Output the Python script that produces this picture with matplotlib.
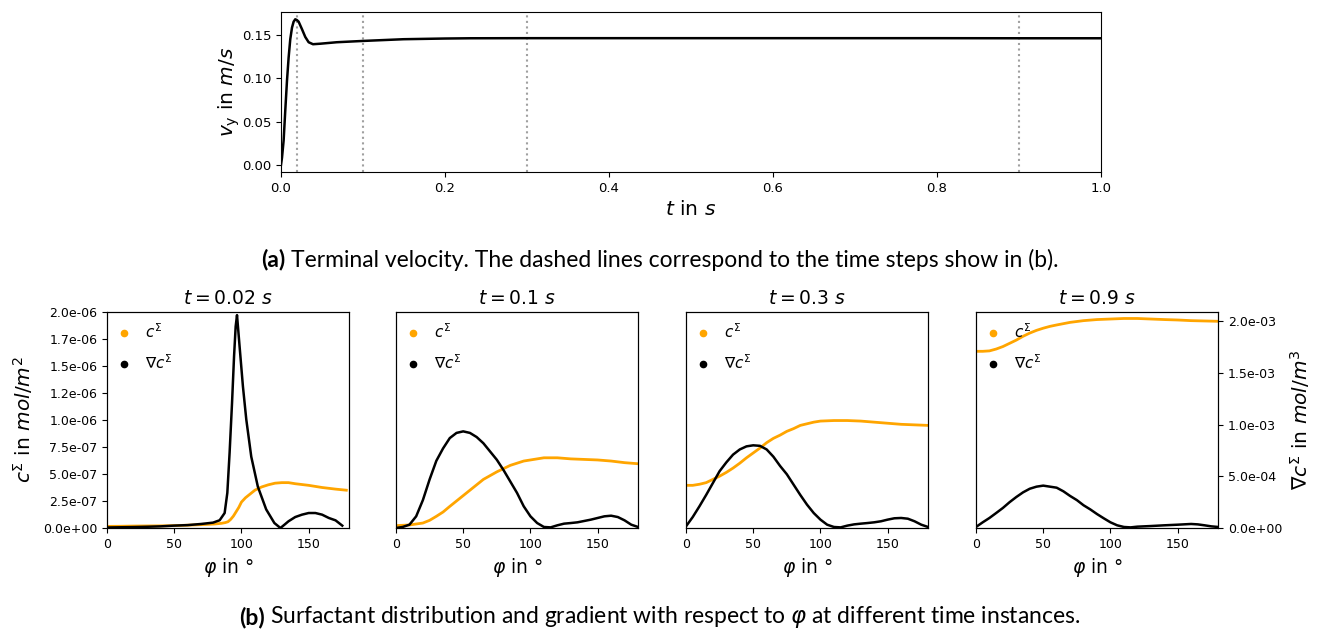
import matplotlib
matplotlib.use("Agg")
import matplotlib.pyplot as plt
from matplotlib.lines import Line2D

# ---------------- terminal velocity ----------------
t_vel = [0.0, 0.0012, 0.0032, 0.0052, 0.0073, 0.0093, 0.0113, 0.0134, 0.0154,
         0.0174, 0.0195, 0.0215, 0.0256, 0.0296, 0.0337, 0.039, 0.048, 0.068,
         0.1, 0.1495, 0.2, 0.231, 0.3, 0.4, 0.5, 0.6, 0.7, 0.8, 0.9, 1.0]
v_vel = [0.0, 0.008, 0.028, 0.0627, 0.0973, 0.1242, 0.1454, 0.1588, 0.1657,
         0.1685, 0.1675, 0.1657, 0.157, 0.148, 0.1419, 0.1396, 0.1402, 0.1419,
         0.1434, 0.1454, 0.1462, 0.1465, 0.1466, 0.1466, 0.1466, 0.1466, 0.1466,
         0.1466, 0.1465, 0.1465]
marked_times = [0.02, 0.1, 0.3, 0.9]

# ---------------- surfactant, t = 0.02 s ----------------
phi_c_a = [0, 10, 20, 30, 40, 50, 60, 70, 80, 85, 88, 90, 92, 94, 96, 98, 100,
           103, 106, 110, 115, 120, 125, 130, 135, 140, 150, 160, 170, 178]
c_a = [1.5e-8, 1.6e-8, 1.8e-8, 1.9e-8, 2.0e-8, 2.2e-8, 2.6e-8, 3.1e-8, 3.7e-8,
       4.3e-8, 5.0e-8, 5.8e-8, 8.0e-8, 1.1e-7, 1.5e-7, 1.9e-7, 2.4e-7, 2.8e-7,
       3.1e-7, 3.5e-7, 3.8e-7, 4.0e-7, 4.15e-7, 4.2e-7, 4.2e-7, 4.1e-7, 3.95e-7,
       3.75e-7, 3.6e-7, 3.5e-7]
phi_g_a = [0, 10, 20, 30, 40, 50, 60, 70, 78.9, 83.8, 87.5, 89.5, 91.2, 93.0,
           94.5, 95.7, 96.7, 98.6, 101.1, 103.6, 107.3, 112.2, 118.4, 124.5,
           129.0, 132, 135, 140, 145, 150, 155, 160, 165, 170, 175]
g_a = [5e-6, 7e-6, 9e-6, 1.2e-5, 1.6e-5, 2.3e-5, 2.8e-5, 3.9e-5, 5.2e-5, 7.5e-5,
       1.45e-4, 3.4e-4, 7.3e-4, 1.21e-3, 1.66e-3, 1.95e-3, 2.06e-3, 1.76e-3,
       1.37e-3, 1.05e-3, 6.9e-4, 4.0e-4, 1.8e-4, 4.8e-5, 0.0, 3.2e-5, 6.5e-5,
       1.06e-4, 1.29e-4, 1.45e-4, 1.45e-4, 1.29e-4, 9.7e-5, 7.4e-5, 2.3e-5]

# ---------------- surfactant, t = 0.1 s ----------------
phi_c_b = [0, 10, 20, 25, 30, 35, 40, 45, 50, 55, 60, 65, 70, 75, 80, 85, 90,
           95, 100, 105, 110, 120, 130, 140, 150, 160, 170, 180]
c_b = [2.2e-8, 2.8e-8, 4.6e-8, 7.1e-8, 1.08e-7, 1.48e-7, 2.0e-7, 2.5e-7, 3.0e-7,
       3.5e-7, 4.0e-7, 4.5e-7, 4.85e-7, 5.2e-7, 5.5e-7, 5.8e-7, 6.0e-7, 6.2e-7,
       6.3e-7, 6.4e-7, 6.5e-7, 6.5e-7, 6.4e-7, 6.35e-7, 6.3e-7, 6.2e-7, 6.05e-7,
       5.95e-7]
phi_g_b = [0, 5, 10, 15, 20, 25, 30, 35, 40, 45, 50, 55, 60, 65, 70, 75, 80, 85,
           90, 95, 100, 105, 110, 115, 120, 125, 130, 135, 140, 145, 150, 155,
           160, 165, 170, 175, 180]
g_b = [0.0, 1e-5, 3.2e-5, 1.13e-4, 2.7e-4, 4.7e-4, 6.5e-4, 7.7e-4, 8.7e-4,
       9.2e-4, 9.35e-4, 9.2e-4, 8.8e-4, 8.2e-4, 7.4e-4, 6.6e-4, 5.6e-4, 4.5e-4,
       3.4e-4, 2.1e-4, 1.13e-4, 4.8e-5, 1e-5, 6e-6, 2.6e-5, 4.2e-5, 4.8e-5,
       5.5e-5, 6.8e-5, 8.1e-5, 9.7e-5, 1.13e-4, 1.19e-4, 1.06e-4, 7.4e-5,
       3.2e-5, 1e-5]

# ---------------- surfactant, t = 0.3 s ----------------
phi_c_c = [0, 5, 10, 15, 20, 25, 30, 35, 40, 45, 50, 55, 60, 65, 70, 75, 80, 85,
           90, 95, 100, 110, 120, 130, 140, 150, 160, 170, 180]
c_c = [3.95e-7, 3.95e-7, 4.05e-7, 4.2e-7, 4.5e-7, 4.8e-7, 5.15e-7, 5.55e-7,
       6.0e-7, 6.5e-7, 6.95e-7, 7.4e-7, 7.9e-7, 8.3e-7, 8.6e-7, 8.95e-7, 9.2e-7,
       9.5e-7, 9.65e-7, 9.8e-7, 9.9e-7, 9.95e-7, 9.95e-7, 9.9e-7, 9.8e-7,
       9.7e-7, 9.6e-7, 9.55e-7, 9.5e-7]
phi_g_c = [0, 5, 10, 15, 20, 25, 30, 35, 40, 45, 50, 55, 60, 65, 70, 75, 80, 85,
           90, 95, 100, 105, 110, 115, 120, 125, 130, 135, 140, 145, 150, 155,
           160, 165, 170, 175, 180]
g_c = [1.6e-5, 1.06e-4, 2.1e-4, 3.2e-4, 4.35e-4, 5.5e-4, 6.35e-4, 7.1e-4, 7.6e-4,
       7.9e-4, 8.0e-4, 7.95e-4, 7.6e-4, 6.9e-4, 6.0e-4, 5.2e-4, 4.2e-4, 3.2e-4,
       2.26e-4, 1.45e-4, 8.1e-5, 3.2e-5, 1e-5, 6e-6, 2.3e-5, 3.5e-5, 4.2e-5,
       4.8e-5, 5.5e-5, 6.5e-5, 8.1e-5, 9.4e-5, 9.7e-5, 9.0e-5, 6.5e-5, 3.2e-5,
       1e-5]

# ---------------- surfactant, t = 0.9 s ----------------
phi_c_d = [0, 5, 10, 15, 20, 25, 30, 35, 40, 45, 50, 55, 60, 70, 80, 90, 100,
           110, 120, 130, 140, 150, 160, 170, 180]
c_d = [1.636e-6, 1.636e-6, 1.64e-6, 1.657e-6, 1.68e-6, 1.71e-6, 1.74e-6,
       1.775e-6, 1.805e-6, 1.83e-6, 1.85e-6, 1.867e-6, 1.88e-6, 1.904e-6,
       1.92e-6, 1.93e-6, 1.935e-6, 1.94e-6, 1.94e-6, 1.935e-6, 1.93e-6,
       1.926e-6, 1.92e-6, 1.917e-6, 1.914e-6]
phi_g_d = [0, 5, 10, 15, 20, 25, 30, 35, 40, 45, 50, 55, 60, 65, 70, 75, 80, 85,
           90, 95, 100, 105, 110, 115, 120, 130, 140, 150, 160, 165, 170, 175, 180]
g_d = [1e-5, 5.5e-5, 9.7e-5, 1.45e-4, 1.94e-4, 2.5e-4, 3.0e-4, 3.45e-4, 3.8e-4,
       4.0e-4, 4.1e-4, 4.0e-4, 3.9e-4, 3.55e-4, 3.1e-4, 2.7e-4, 2.2e-4, 1.8e-4,
       1.35e-4, 9.4e-5, 5.5e-5, 2.6e-5, 1e-5, 6e-6, 1.3e-5, 1.9e-5, 2.6e-5,
       3.2e-5, 3.9e-5, 3.5e-5, 2.6e-5, 1.6e-5, 1e-5]

panel_titles = [r"$t = 0.02$ $s$", r"$t = 0.1$ $s$", r"$t = 0.3$ $s$", r"$t = 0.9$ $s$"]
panel_data = [(phi_c_a, c_a, phi_g_a, g_a), (phi_c_b, c_b, phi_g_b, g_b),
              (phi_c_c, c_c, phi_g_c, g_c), (phi_c_d, c_d, phi_g_d, g_d)]

c_ticks = [0.0, 2.5e-7, 5.0e-7, 7.5e-7, 1.0e-6, 1.25e-6, 1.5e-6, 1.75e-6, 2.0e-6]
c_ticklabels = ["0.0e+00", "2.5e-07", "5.0e-07", "7.5e-07", "1.0e-06",
                "1.2e-06", "1.5e-06", "1.7e-06", "2.0e-06"]
g_ticks = [0.0, 5.0e-4, 1.0e-3, 1.5e-3, 2.0e-3]
g_ticklabels = ["0.0e+00", "5.0e-04", "1.0e-03", "1.5e-03", "2.0e-03"]
phi_ticks = [0, 50, 100, 150]

C_ORANGE = "#ffa500"
W, H = 1320, 632

fig = plt.figure(figsize=(W / 100, H / 100), dpi=100)


def add_axes_px(left, top, width, height):
    return fig.add_axes([left / W, 1 - (top + height) / H, width / W, height / H])


# ---- (a) terminal velocity ----
ax = add_axes_px(281, 12, 820, 160)
ax.plot(t_vel, v_vel, color="black", lw=1.8)
for tm in marked_times:
    ax.axvline(tm, color="#a0a0a0", ls=":", lw=1.5, zorder=0)
ax.set_xlim(0, 1.0)
ax.set_xticks([0.0, 0.2, 0.4, 0.6, 0.8, 1.0])
ax.set_yticks([0.0, 0.05, 0.10, 0.15])
ax.set_yticklabels(["0.00", "0.05", "0.10", "0.15"])
ax.tick_params(labelsize=9.5)
ax.set_xlabel(r"$t$ in $s$", fontsize=14.5, labelpad=4)
ax.set_ylabel(r"$v_\mathrm{y}$ in $m/s$", fontsize=14.5, labelpad=0)

# ---- (b) surfactant distribution ----
lefts = [107, 396, 686, 976]
legend_handles = [Line2D([], [], ls="", marker="o", ms=4.5, color=C_ORANGE),
                  Line2D([], [], ls="", marker="o", ms=4.5, color="black")]
legend_labels = [r"$c^\Sigma$", r"$\nabla c^\Sigma$"]

for i, (left, title, (pc, c, pg, g)) in enumerate(zip(lefts, panel_titles, panel_data)):
    axc = add_axes_px(left, 312, 242, 216)
    axg = axc.twinx()
    axc.plot(pc, c, color=C_ORANGE, lw=2.0)
    axg.plot(pg, g, color="black", lw=1.8)
    axc.set_xlim(0, 180)
    axc.set_ylim(0, 2.0e-6)
    axg.set_ylim(0, 2.09e-3)
    axc.set_xticks(phi_ticks)
    axc.tick_params(labelsize=9)
    axg.tick_params(labelsize=9)
    axc.set_title(title, fontsize=13.5, pad=6)
    axc.set_xlabel(r"$\varphi$ in °", fontsize=13.5, labelpad=4)
    if i == 0:
        axc.set_yticks(c_ticks)
        axc.set_yticklabels(c_ticklabels)
        axc.set_ylabel(r"$c^\Sigma$ in $mol/m^2$", fontsize=14.5, labelpad=6)
    else:
        axc.set_yticks([])
    if i == 3:
        axg.set_yticks(g_ticks)
        axg.set_yticklabels(g_ticklabels)
        axg.set_ylabel(r"$\nabla c^\Sigma$ in $mol/m^3$", fontsize=14.5, labelpad=4)
    else:
        axg.set_yticks([])
    axg.legend(legend_handles, legend_labels, loc="upper left", frameon=False,
               fontsize=11, handlelength=0.8, handletextpad=1.0,
               labelspacing=0.8, borderaxespad=0.3, borderpad=0.4)

# ---- captions ----
cap_font = "Lato"
cap_size = 16.5


def caption(y_px, bold, rest):
    tb = fig.text(0, 1 - y_px / H, bold, fontsize=cap_size, fontweight="bold",
                  family=cap_font, va="center", ha="left")
    tr = fig.text(0, 1 - y_px / H, rest, fontsize=cap_size, family=cap_font,
                  va="center", ha="left")
    fig.canvas.draw()
    r = fig.canvas.get_renderer()
    wb = tb.get_window_extent(r).width
    wr = tr.get_window_extent(r).width
    gap = 5
    x0 = (W - (wb + gap + wr)) / 2
    tb.set_x(x0 / W)
    tr.set_x((x0 + wb + gap) / W)


caption(260, "(a)", "Terminal velocity. The dashed lines correspond to the time steps show in (b).")
caption(617, "(b)", r"Surfactant distribution and gradient with respect to $\varphi$ at different time instances.")

fig.savefig("out.png", dpi=100)
